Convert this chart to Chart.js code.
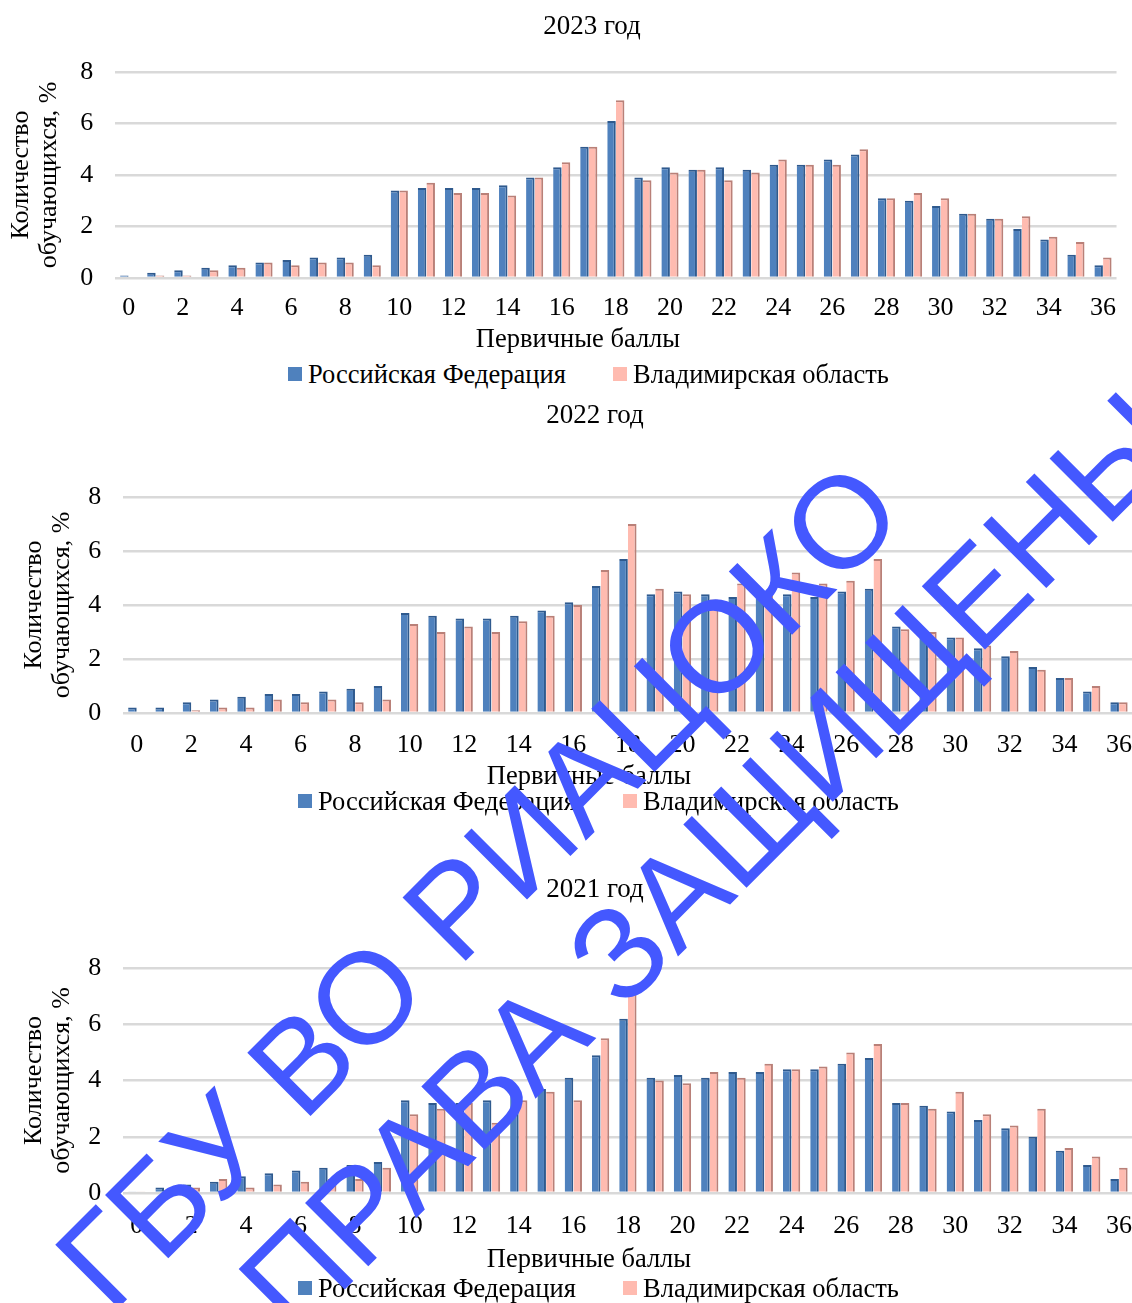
<!DOCTYPE html>
<html><head><meta charset="utf-8">
<script src="https://cdn.jsdelivr.net/npm/chart.js@4/dist/chart.umd.min.js"></script>
<style>
html,body{margin:0;padding:0;background:#fff;width:1132px;height:1303px;overflow:hidden;position:relative;}
.c{position:absolute;left:0;}
.tx{position:absolute;font-family:"Liberation Serif","Times New Roman",serif;color:#000;white-space:nowrap;line-height:1;transform:translate(-50%,-50%);}
.lg{position:absolute;font-family:"Liberation Serif","Times New Roman",serif;font-size:26.5px;color:#000;white-space:nowrap;line-height:1;transform:translateY(-50%);}
.bx{position:absolute;width:14px;height:14px;}
.wm{position:absolute;left:0;top:0;font-family:"Liberation Sans",Arial,sans-serif;font-size:130px;color:#4458ff;white-space:nowrap;line-height:1;transform-origin:50% 50%;pointer-events:none;}
</style></head>
<body>
<div class="c" style="top:0;width:1133px;height:338px"><canvas id="c1"></canvas></div>
<div class="c" style="top:390px;width:1151px;height:387px"><canvas id="c2"></canvas></div>
<div class="c" style="top:864px;width:1152px;height:395px"><canvas id="c3"></canvas></div>
<div id="texts"></div>
<div class="wm" id="w1">ГБУ ВО РИАЦОКО</div>
<div class="wm" id="w2">ПРАВА ЗАЩИЩЕНЫ</div>
<script>
const categories = Array.from({length:37},(_,i)=>String(i));
const seriesNames = ["Российская Федерация","Владимирская область"];
const chartTitles = ["2023 год","2022 год","2021 год"];
const xAxisTitle = "Первичные баллы";
const yAxisTitle = ["Количество","обучающихся, %"];
const yTicks = [0,2,4,6,8];

const rf2023 = [0.1,0.2,0.3,0.4,0.5,0.6,0.7,0.8,0.8,0.9,3.4,3.5,3.5,3.5,3.6,3.9,4.3,5.1,6.1,3.9,4.3,4.2,4.3,4.2,4.4,4.4,4.6,4.8,3.1,3.0,2.8,2.5,2.3,1.9,1.5,0.9,0.5];
const vo2023 = [0.05,0.1,0.1,0.3,0.4,0.6,0.5,0.6,0.6,0.5,3.4,3.7,3.3,3.3,3.2,3.9,4.5,5.1,6.9,3.8,4.1,4.2,3.8,4.1,4.6,4.4,4.4,5.0,3.1,3.3,3.1,2.5,2.3,2.4,1.6,1.4,0.8];

const rf2022 = [0.2,0.2,0.4,0.5,0.6,0.7,0.7,0.8,0.9,1.0,3.7,3.6,3.5,3.5,3.6,3.8,4.1,4.7,5.7,4.4,4.5,4.4,4.3,4.5,4.4,4.3,4.5,4.6,3.2,3.0,2.8,2.4,2.1,1.7,1.3,0.8,0.4];
const vo2022 = [0.05,0.05,0.1,0.2,0.2,0.5,0.4,0.5,0.4,0.5,3.3,3.0,3.2,3.0,3.4,3.6,4.0,5.3,7.0,4.6,4.4,4.2,4.8,4.4,5.2,4.8,4.9,5.7,3.1,3.0,2.8,2.5,2.3,1.6,1.3,1.0,0.4];

const rf2021 = [0.05,0.2,0.3,0.4,0.6,0.7,0.8,0.9,1.0,1.1,3.3,3.2,3.2,3.3,3.5,3.7,4.1,4.9,6.2,4.1,4.2,4.1,4.3,4.3,4.4,4.4,4.6,4.8,3.2,3.1,2.9,2.6,2.3,2.0,1.5,1.0,0.5];
const vo2021 = [0.05,0.1,0.2,0.5,0.2,0.3,0.4,0.5,0.5,0.9,2.8,3.0,3.2,2.5,3.3,3.6,3.3,5.5,7.3,4.0,3.9,4.3,4.1,4.6,4.4,4.5,5.0,5.3,3.2,3.0,3.6,2.8,2.4,3.0,1.6,1.3,0.9];

const FONT = "'Liberation Serif','Times New Roman',serif";
const BLUE = "#4f81bd", BLUE_D = "#2f5a8e";
const PINK = "#ffbbb0", PINK_D = "#b98078";

function makeChart(id, rf, vo, o){
  new Chart(document.getElementById(id), {
    type:'bar',
    data:{labels:categories, datasets:[
      {label:seriesNames[0], data:rf, backgroundColor:BLUE, borderColor:BLUE_D, borderWidth:{top:2,right:2,left:0,bottom:0}, borderSkipped:false},
      {label:seriesNames[1], data:vo, backgroundColor:PINK, borderColor:PINK_D, borderWidth:{top:2,right:2,left:0,bottom:0}, borderSkipped:false}
    ]},
    options:{
      responsive:true, maintainAspectRatio:false, animation:false,
      layout:{padding:{left:o.padLeft, right:0, top:o.padTop, bottom:0}},
      datasets:{bar:{categoryPercentage:0.64, barPercentage:0.98}},
      plugins:{title:{display:false}, legend:{display:false}, tooltip:{enabled:false}},
      scales:{
        x:{grid:{display:false, drawTicks:false}, border:{display:false},
           ticks:{color:'#000', font:{family:FONT, size:26, lineHeight:1}, autoSkip:false, maxRotation:0, padding:o.tickPad,
             callback:function(v,i){return i%2===0?categories[i]:'';}}},
        y:{min:0, max:8, border:{display:false},
           grid:{color:'#d9d9d9', lineWidth:2.5, drawTicks:false},
           afterBuildTicks:function(ax){ax.ticks = yTicks.map(v=>({value:v}));},
           ticks:{color:'#000', font:{family:FONT, size:26}, padding:22},
           title:{display:true, text:yAxisTitle, color:'#000', font:{family:FONT, size:26, lineHeight:1.08}, padding:{top:0,bottom:o.yTitlePad}}}
      }
    }
  });
}
makeChart('c1', rf2023, vo2023, {padLeft:7, padTop:72, tickPad:17, yTitlePad:-5});
makeChart('c2', rf2022, vo2022, {padLeft:20, padTop:107, tickPad:19, yTitlePad:-10});
makeChart('c3', rf2021, vo2021, {padLeft:20, padTop:104, tickPad:20, yTitlePad:-10});

const layoutRows = [
  {title:[592,25], xt:[578,338], lgY:374, lgX:[288,613]},
  {title:[595,414], xt:[589,775], lgY:801, lgX:[298,623]},
  {title:[595,888], xt:[589,1258], lgY:1288, lgX:[298,623]}
];
const colors = [BLUE, PINK];
const root = document.getElementById('texts');
function addText(cls, txt, x, y, size){
  const d = document.createElement('div');
  d.className = cls; d.textContent = txt;
  d.style.left = x+'px'; d.style.top = y+'px';
  if(size) d.style.fontSize = size+'px';
  root.appendChild(d);
}
layoutRows.forEach((r,i)=>{
  addText('tx', chartTitles[i], r.title[0], r.title[1], 27);
  addText('tx', xAxisTitle, r.xt[0], r.xt[1], 26.5);
  r.lgX.forEach((x,k)=>{
    const b = document.createElement('div');
    b.className='bx'; b.style.background=colors[k];
    b.style.left = x+'px'; b.style.top = (r.lgY-7)+'px';
    root.appendChild(b);
    addText('lg', seriesNames[k], x+20, r.lgY);
  });
});

function placeWM(id, cx, cy){
  const el = document.getElementById(id);
  const w = el.offsetWidth, h = el.offsetHeight;
  el.style.left = (cx - w/2) + 'px';
  el.style.top = (cy - h/2) + 'px';
  el.style.transform = 'rotate(-45deg)';
}
placeWM('w1', 478, 885);
placeWM('w2', 708, 862);
</script>
</body></html>
